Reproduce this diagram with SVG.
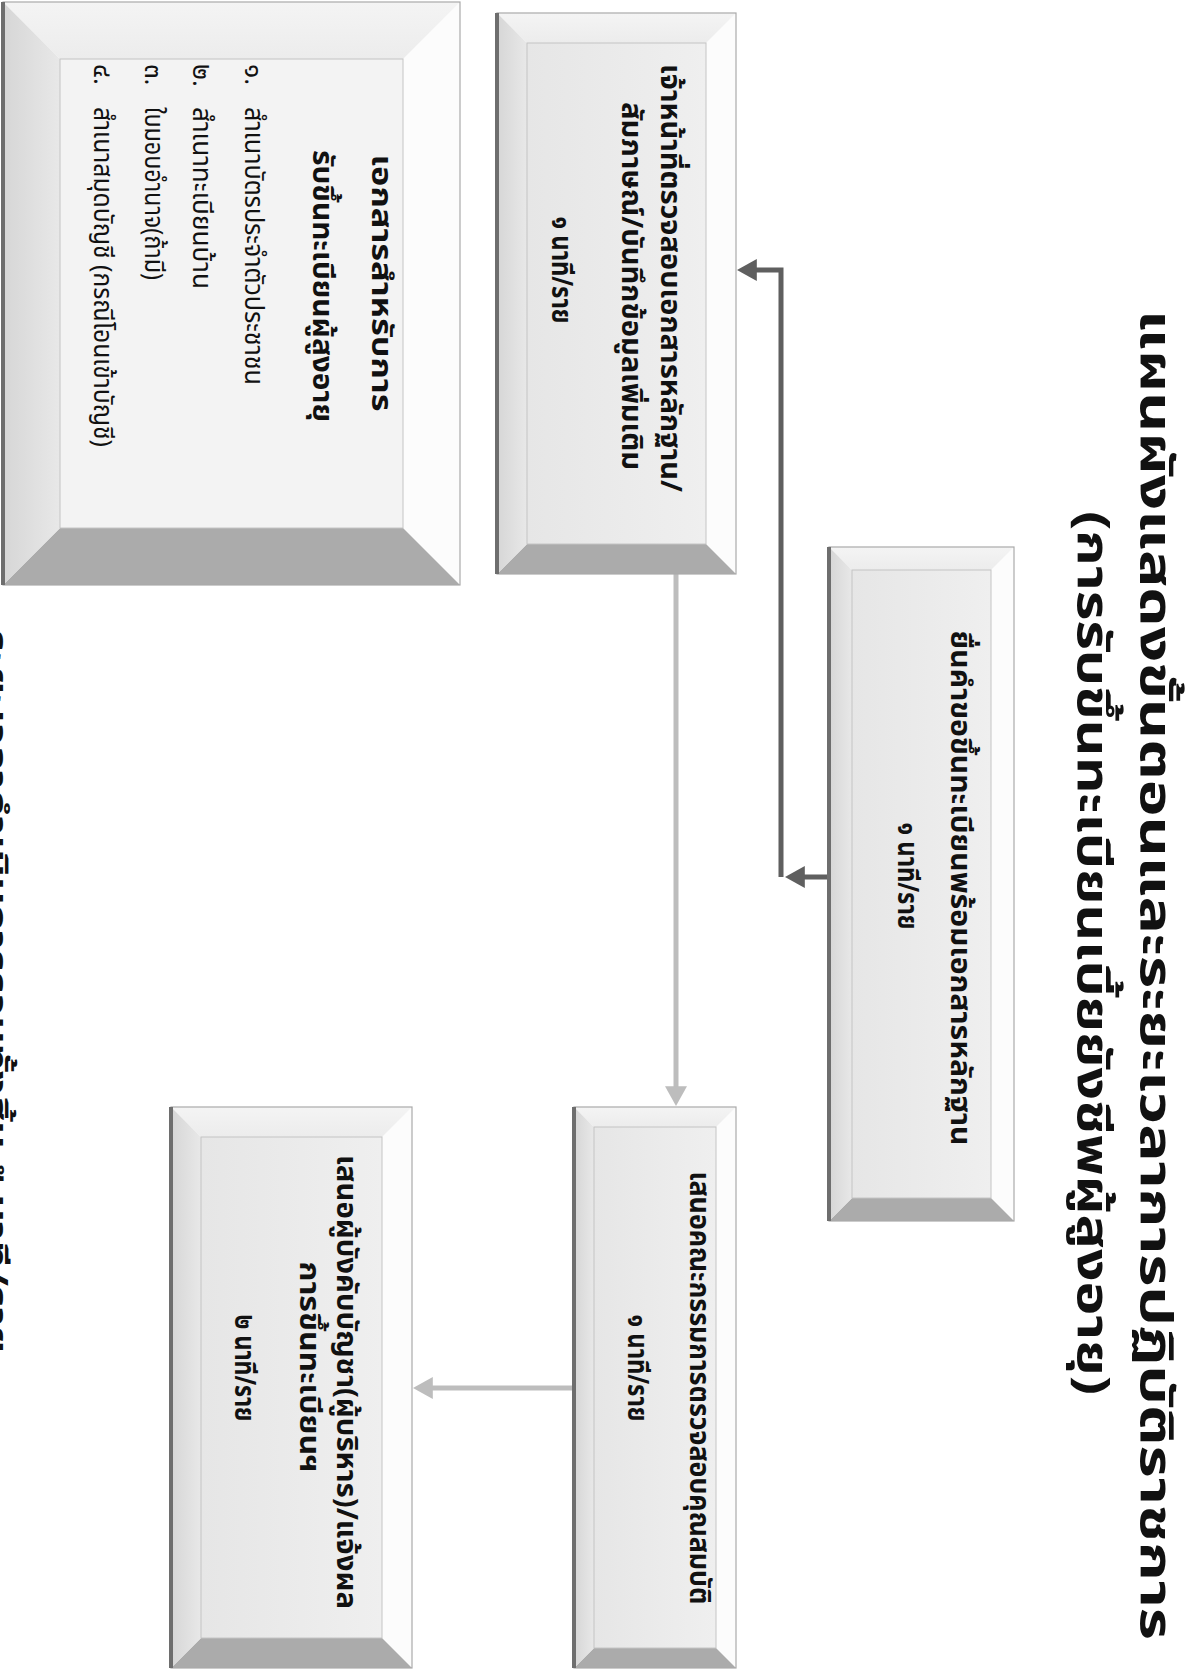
<svg xmlns="http://www.w3.org/2000/svg" width="1188" height="1676" viewBox="0 0 1188 1676">
<style>
text{font-family:"Noto Sans Thai","Noto Sans","DejaVu Sans","Liberation Sans",sans-serif;fill:#111}
.title{font-size:44px;font-weight:bold}
.bt{font-size:28px;font-weight:bold}
.it{font-size:26px}
.ft{font-size:32px;font-weight:bold}
.top{fill:#fcfcfc}
.lft{fill:url(#gl)}
.rgt{fill:#ababab}
.bot{fill:url(#gb)}
.inn{fill:url(#gi);stroke:#c4c4c4;stroke-width:1}
.out{fill:none;stroke:#aaaaaa;stroke-width:1.2}
.shd{stroke:#6e6e6e;stroke-width:4}
.dk{fill:none;stroke:#5f5f5f;stroke-width:5}
.lt{fill:none;stroke:#bdbdbd;stroke-width:5}
</style>
<defs>
<linearGradient id="gl" x1="0" y1="0" x2="1" y2="0"><stop offset="0" stop-color="#f4f4f4"/><stop offset="1" stop-color="#ececec"/></linearGradient>
<linearGradient id="gb" x1="0" y1="0" x2="0" y2="1"><stop offset="0" stop-color="#e8e8e8"/><stop offset="1" stop-color="#d6d6d6"/></linearGradient>
<linearGradient id="gi" x1="0" y1="0" x2="0" y2="1"><stop offset="0" stop-color="#efefef"/><stop offset="1" stop-color="#e6e6e6"/></linearGradient>
<marker id="ad" markerUnits="userSpaceOnUse" markerWidth="22" markerHeight="22" viewBox="0 0 20 20" refX="8" refY="10" orient="auto"><path d="M0,0 L18,10 L0,20 z" fill="#5f5f5f"/></marker>
<marker id="al" markerUnits="userSpaceOnUse" markerWidth="22" markerHeight="22" viewBox="0 0 20 20" refX="8" refY="10" orient="auto"><path d="M0,0 L18,10 L0,20 z" fill="#bdbdbd"/></marker>
</defs>
<rect width="1188" height="1676" fill="#ffffff"/>
<g transform="matrix(0,1,-1,0,1188,0)">
<g id="title">
<text class="title" x="975" y="47" text-anchor="middle" textLength="1330" lengthAdjust="spacingAndGlyphs">แผนผังแสดงขั้นตอนและระยะเวลาการปฏิบัติราชการ</text>
<text class="title" x="953" y="110" text-anchor="middle" textLength="884" lengthAdjust="spacingAndGlyphs">(การรับขึ้นทะเบียนเบี้ยยังชีพผู้สูงอายุ)</text>
</g>
<g id="connectors">
<path class="dk" d="M877,359 V392" marker-end="url(#ad)"/>
<path class="dk" d="M877,407 H270 V440" marker-end="url(#ad)"/>
<path class="lt" d="M574,512 H1095" marker-end="url(#al)"/>
<path class="lt" d="M1388,614 V764" marker-end="url(#al)"/>
</g>
<g id="node-submit">
<polygon class="top" points="547,174 1221,174 1198,197 570,197"/>
<polygon class="lft" points="547,174 570,197 570,336 547,359"/>
<polygon class="rgt" points="1221,174 1221,359 1198,336 1198,197"/>
<polygon class="bot" points="547,359 570,336 1198,336 1221,359"/>
<rect class="inn" x="570" y="197" width="628" height="139"/>
<rect class="out" x="547" y="174" width="674" height="185"/>
<line class="shd" x1="547" y1="359" x2="1221" y2="359"/>
<text class="bt" x="888" y="237" text-anchor="middle" textLength="515" lengthAdjust="spacingAndGlyphs">ยื่นคำขอขึ้นทะเบียนพร้อมเอกสารหลักฐาน</text>
<text class="bt" x="876" y="290" text-anchor="middle" textLength="107" lengthAdjust="spacingAndGlyphs">๑ นาที/ราย</text>
</g>
<g id="node-check">
<polygon class="top" points="13,452 574,452 544,482 43,482"/>
<polygon class="lft" points="13,452 43,482 43,661 13,691"/>
<polygon class="rgt" points="574,452 574,691 544,661 544,482"/>
<polygon class="bot" points="13,691 43,661 544,661 574,691"/>
<rect class="inn" x="43" y="482" width="501" height="179"/>
<rect class="out" x="13" y="452" width="561" height="239"/>
<line class="shd" x1="13" y1="691" x2="574" y2="691"/>
<text class="bt" x="278" y="527" text-anchor="middle" textLength="428" lengthAdjust="spacingAndGlyphs">เจ้าหน้าที่ตรวจสอบเอกสารหลักฐาน/</text>
<text class="bt" x="286" y="566" text-anchor="middle" textLength="368" lengthAdjust="spacingAndGlyphs">สัมภาษณ์/บันทึกข้อมูลเพิ่มเติม</text>
<text class="bt" x="270" y="636" text-anchor="middle" textLength="107" lengthAdjust="spacingAndGlyphs">๑ นาที/ราย</text>
</g>
<g id="node-documents">
<polygon class="top" points="2,728 585,728 528,785 59,785"/>
<polygon class="lft" points="2,728 59,785 59,1128 2,1185"/>
<polygon class="rgt" points="585,728 585,1185 528,1128 528,785"/>
<polygon class="bot" points="2,1185 59,1128 528,1128 585,1185"/>
<rect class="inn" x="59" y="785" width="469" height="343" style="fill:#f3f3f3"/>
<rect class="out" x="2" y="728" width="583" height="457"/>
<line class="shd" x1="2" y1="1185" x2="585" y2="1185"/>
<text class="bt" x="283" y="816" text-anchor="middle" textLength="257" lengthAdjust="spacingAndGlyphs">เอกสารสำหรับการ</text>
<text class="bt" x="286" y="875" text-anchor="middle" textLength="272" lengthAdjust="spacingAndGlyphs">รับขึ้นทะเบียนผู้สูงอายุ</text>
<text class="it" x="64" y="943">๑.</text>
<text class="it" x="107" y="943" textLength="278" lengthAdjust="spacingAndGlyphs">สำเนาบัตรประจำตัวประชาชน</text>
<text class="it" x="64" y="995">๒.</text>
<text class="it" x="107" y="995" textLength="182" lengthAdjust="spacingAndGlyphs">สำเนาทะเบียนบ้าน</text>
<text class="it" x="64" y="1043">๓.</text>
<text class="it" x="107" y="1043" textLength="173" lengthAdjust="spacingAndGlyphs">ใบมอบอำนาจ(ถ้ามี)</text>
<text class="it" x="64" y="1094">๔.</text>
<text class="it" x="107" y="1094" textLength="340" lengthAdjust="spacingAndGlyphs">สำเนาสมุดบัญชี (กรณีโอนเข้าบัญชี)</text>
</g>
<g id="node-committee">
<polygon class="top" points="1107,452 1668,452 1648,472 1127,472"/>
<polygon class="lft" points="1107,452 1127,472 1127,594 1107,614"/>
<polygon class="rgt" points="1668,452 1668,614 1648,594 1648,472"/>
<polygon class="bot" points="1107,614 1127,594 1648,594 1668,614"/>
<rect class="inn" x="1127" y="472" width="521" height="122"/>
<rect class="out" x="1107" y="452" width="561" height="162"/>
<line class="shd" x1="1107" y1="614" x2="1668" y2="614"/>
<text class="bt" x="1388" y="498" text-anchor="middle" textLength="433" lengthAdjust="spacingAndGlyphs">เสนอคณะกรรมการตรวจสอบคุณสมบัติ</text>
<text class="bt" x="1368" y="560" text-anchor="middle" textLength="107" lengthAdjust="spacingAndGlyphs">๑ นาที/ราย</text>
</g>
<g id="node-approve">
<polygon class="top" points="1107,776 1668,776 1638,806 1137,806"/>
<polygon class="lft" points="1107,776 1137,806 1137,987 1107,1017"/>
<polygon class="rgt" points="1668,776 1668,1017 1638,987 1638,806"/>
<polygon class="bot" points="1107,1017 1137,987 1638,987 1668,1017"/>
<rect class="inn" x="1137" y="806" width="501" height="181"/>
<rect class="out" x="1107" y="776" width="561" height="241"/>
<line class="shd" x1="1107" y1="1017" x2="1668" y2="1017"/>
<text class="bt" x="1382" y="851" text-anchor="middle" textLength="454" lengthAdjust="spacingAndGlyphs">เสนอผู้บังคับบัญชา(ผู้บริหาร)/แจ้งผล</text>
<text class="bt" x="1367" y="888" text-anchor="middle" textLength="211" lengthAdjust="spacingAndGlyphs">การขึ้นทะเบียนฯ</text>
<text class="bt" x="1368" y="953" text-anchor="middle" textLength="107" lengthAdjust="spacingAndGlyphs">๒ นาที/ราย</text>
</g>
<g id="footer">
<text class="ft" x="630" y="1203" textLength="723" lengthAdjust="spacingAndGlyphs">ระยะเวลาดำเนินการรวมทั้งสิ้น ๕ นาที/ราย</text>
</g>
</g>
</svg>
